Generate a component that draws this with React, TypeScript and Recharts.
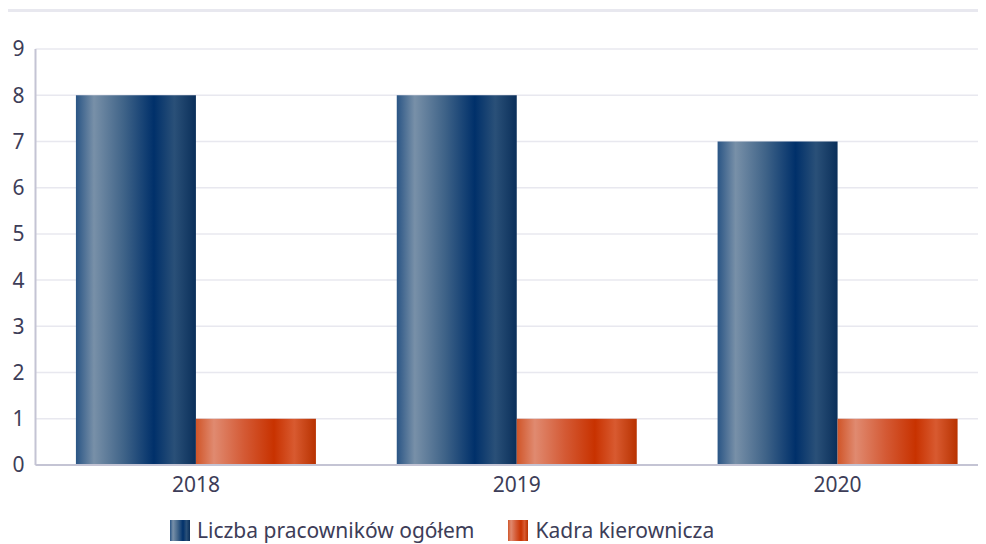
import { BarChart, Bar, XAxis, YAxis, CartesianGrid } from "recharts"

const years = ["2018", "2019", "2020"]
const totalStaff = [8, 8, 7]
const management = [1, 1, 1]
const yTicks = [0, 1, 2, 3, 4, 5, 6, 7, 8, 9]

const seriesNames = {
  total: "Liczba pracowników ogółem",
  mgmt: "Kadra kierownicza",
}

const data = years.map((year, i) => ({
  year,
  total: totalStaff[i],
  mgmt: management[i],
}))

const textColor = "#3d3d58"
const font = "'Noto Sans', sans-serif"

const blueCss =
  "linear-gradient(to right, #2a5585 0%, #7890a8 15%, #3f6388 40%, #00306a 65%, #2a5078 82%, #0a2f5a 100%)"
const orangeCss =
  "linear-gradient(to right, #d05528 0%, #e08a70 15%, #d45a35 40%, #c83200 65%, #d85a30 82%, #b83200 100%)"

function ChartLegend() {
  const items = [
    { label: seriesNames.total, bg: blueCss },
    { label: seriesNames.mgmt, bg: orangeCss },
  ]
  return (
    <div
      style={{
        position: "absolute",
        left: 162,
        top: 510,
        display: "flex",
        alignItems: "center",
        fontFamily: font,
        fontSize: 21,
        lineHeight: "24px",
        color: textColor,
      }}
    >
      {items.map((it) => (
        <div key={it.label} style={{ display: "flex", alignItems: "center", marginRight: 34 }}>
          <span style={{ display: "inline-block", width: 20, height: 21, background: it.bg, marginRight: 7 }} />
          <span>{it.label}</span>
        </div>
      ))}
    </div>
  )
}

export default function App() {
  return (
    <div style={{ position: "relative", width: 978, height: 536, overflow: "hidden" }}>
      <div style={{ position: "absolute", left: 0, top: 1, width: 978, height: 3, background: "#e8e8ef" }} />
      <BarChart
        width={1000}
        height={536}
        data={data}
        margin={{ top: 41, right: 10, left: 0, bottom: 49 }}
        barCategoryGap="12.6%"
        barGap={0}
      >
        <defs>
          <linearGradient id="blueGrad" x1="0" y1="0" x2="1" y2="0">
            <stop offset="0%" stopColor="#2a5585" />
            <stop offset="15%" stopColor="#7890a8" />
            <stop offset="40%" stopColor="#3f6388" />
            <stop offset="65%" stopColor="#00306a" />
            <stop offset="82%" stopColor="#2a5078" />
            <stop offset="100%" stopColor="#0a2f5a" />
          </linearGradient>
          <linearGradient id="orangeGrad" x1="0" y1="0" x2="1" y2="0">
            <stop offset="0%" stopColor="#d05528" />
            <stop offset="15%" stopColor="#e08a70" />
            <stop offset="40%" stopColor="#d45a35" />
            <stop offset="65%" stopColor="#c83200" />
            <stop offset="82%" stopColor="#d85a30" />
            <stop offset="100%" stopColor="#b83200" />
          </linearGradient>
        </defs>
        <CartesianGrid vertical={false} stroke="#e8e8ef" strokeWidth={1.5} />
        <XAxis
          dataKey="year"
          height={30}
          tickLine={false}
          tickSize={0}
          tickMargin={12}
          axisLine={{ stroke: "#c4c4d4", strokeWidth: 2 }}
          tick={{ fill: textColor, fontSize: 21, fontFamily: font }}
        />
        <YAxis
          width={27.5}
          domain={[0, 9]}
          ticks={yTicks}
          interval={0}
          tickLine={false}
          tickSize={0}
          tickMargin={11}
          axisLine={{ stroke: "#c4c4d4", strokeWidth: 2 }}
          tick={{ fill: textColor, fontSize: 21, fontFamily: font }}
        />
        <Bar dataKey="total" name={seriesNames.total} fill="url(#blueGrad)" isAnimationActive={false} />
        <Bar dataKey="mgmt" name={seriesNames.mgmt} fill="url(#orangeGrad)" isAnimationActive={false} />
      </BarChart>
      <ChartLegend />
    </div>
  )
}
